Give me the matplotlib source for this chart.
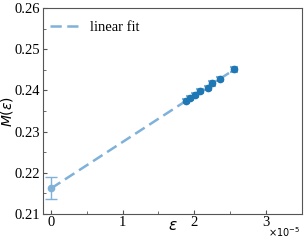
import numpy as np
import matplotlib
matplotlib.use("Agg")
import matplotlib.pyplot as plt
from matplotlib.ticker import MultipleLocator, FuncFormatter

# data
eps = np.array([1.879, 1.94, 2.008, 2.078, 2.19, 2.25, 2.357, 2.55]) * 1e-5
m_eps = np.array([0.2374, 0.2381, 0.2389, 0.2399, 0.2407, 0.2417, 0.2427, 0.2451])
m_err = np.array([0.0005, 0.0005, 0.0005, 0.0005, 0.0005, 0.0005, 0.0005, 0.0005])

eps_extrap = [0.0]
m_extrap = [0.2163]
m_extrap_err = [0.0027]

fit_range = [0.0, 2.6e-5]

plt.rcParams["font.family"] = ["Liberation Serif", "DejaVu Serif"]
plt.rcParams["mathtext.fontset"] = "dejavusans"

fig = plt.figure(figsize=(3.05, 2.46), dpi=100)
ax = fig.add_axes([0.141, 0.130, 0.849, 0.837])

blue = "#1f77b4"
light = "#7fb1d9"

slope, intercept = np.polyfit(eps, m_eps, 1)
xf = np.array(fit_range)
ax.plot(xf, intercept + slope * xf, ls=(0, (4.5, 2.2)), color=light, lw=1.8,
        label="linear fit", zorder=1)

ax.errorbar(eps, m_eps, yerr=m_err, fmt="o", color=blue, ms=4.5,
            ecolor=light, elinewidth=1.5, capsize=3, capthick=1.5, zorder=3)
ax.errorbar(eps_extrap, m_extrap, yerr=m_extrap_err, fmt="o", color=light,
            ms=4.5, elinewidth=1, capsize=4, capthick=1, zorder=3)

ax.set_xlim(-0.11e-5, 3.5e-5)
ax.set_ylim(0.21, 0.26)
ax.yaxis.set_major_locator(MultipleLocator(0.01))
ax.yaxis.set_minor_locator(MultipleLocator(0.005))
ax.xaxis.set_major_locator(MultipleLocator(1e-5))
ax.xaxis.set_minor_locator(MultipleLocator(0.5e-5))
ax.xaxis.set_major_formatter(FuncFormatter(lambda v, p: f"{v / 1e-5:.0f}"))
ax.yaxis.set_major_formatter(plt.FormatStrFormatter("%.2f"))
ax.text(0.992, -0.087, r"$\times10^{-5}$", transform=ax.transAxes,
        ha="right", va="center", fontsize=7)

ax.tick_params(which="both", direction="in", labelsize=10.5, color="#555555")
ax.tick_params(which="major", length=3)
ax.tick_params(which="minor", length=2)
ax.tick_params(axis="x", pad=1.5)
ax.tick_params(axis="y", pad=2)
for s in ax.spines.values():
    s.set_color("#555555")
    s.set_linewidth(0.8)

ax.set_xlabel(r"$\varepsilon$", fontsize=11)
ax.set_ylabel(r"$M(\varepsilon)$", fontsize=10)
ax.xaxis.set_label_coords(0.5, -0.03)
ax.yaxis.set_label_coords(-0.108, 0.5)

ax.legend(loc="upper left", bbox_to_anchor=(0.0, 0.975), frameon=False,
          fontsize=10.5, handlelength=2.2, handletextpad=0.55,
          borderaxespad=0.1)

fig.savefig("out.png", dpi=100)
